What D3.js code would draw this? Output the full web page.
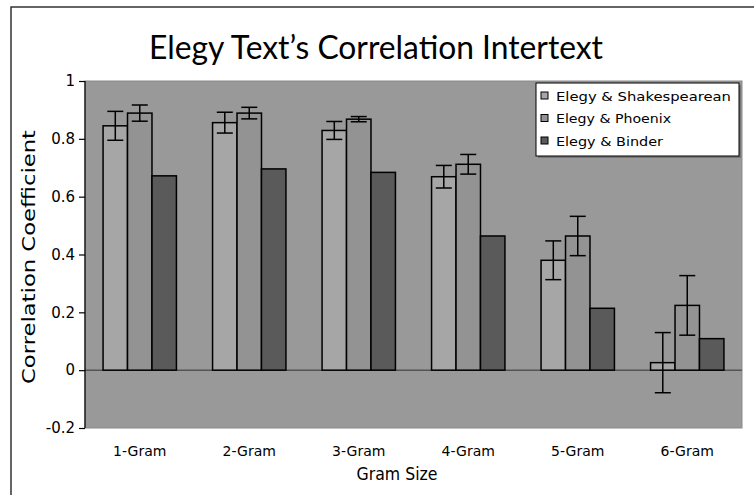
<!DOCTYPE html>
<html>
<head>
<meta charset="utf-8">
<script src="https://cdn.jsdelivr.net/npm/d3@7"></script>
<style>
  body { margin: 0; background: #fff; }
  svg { display: block; font-family: "DejaVu Sans", sans-serif; }
</style>
</head>
<body>
<script>
var categories = ['1-Gram','2-Gram','3-Gram','4-Gram','5-Gram','6-Gram'];
var seriesNames = ['Elegy & Shakespearean','Elegy & Phoenix','Elegy & Binder'];
var seriesColors = ['#a6a6a6','#939393','#5a5a5a'];
var shakespeareanVals = [0.845,0.856,0.829,0.669,0.380,0.026];
var shakespeareanErr = [0.050,0.036,0.031,0.039,0.067,0.104];
var phoenixVals = [0.889,0.889,0.868,0.712,0.464,0.224];
var phoenixErr = [0.028,0.020,0.009,0.034,0.068,0.103];
var binderVals = [0.672,0.696,0.684,0.464,0.214,0.109];
var yTicks = [-0.2,0,0.2,0.4,0.6,0.8,1];

var allVals = [shakespeareanVals, phoenixVals, binderVals];
var allErr = [shakespeareanErr, phoenixErr, null];

var W = 754, H = 495;
var plot = {left:85, right:742, top:81, bottom:428};

var svg = d3.select('body').append('svg').attr('width',W).attr('height',H);

// outer frame (cut off at right and bottom)
svg.append('path').attr('d','M11,'+H+' L11,7 L'+W+',7')
  .style('fill','none').style('stroke','#333').style('stroke-width',1.5);

var y = d3.scaleLinear().domain([-0.2,1]).range([plot.bottom,plot.top]);
var x0 = d3.scaleBand().domain(categories).range([plot.left,plot.right])
  .paddingInner(0.33).paddingOuter(0.165);
var x1 = d3.scaleBand().domain(d3.range(3)).range([0,x0.bandwidth()]);

// plot area
svg.append('rect').attr('x',plot.left).attr('y',plot.top)
  .attr('width',plot.right-plot.left).attr('height',plot.bottom-plot.top)
  .style('fill','#999999').style('stroke','#8a8a8a').style('stroke-width',1);

// zero line
svg.append('line').attr('x1',plot.left).attr('x2',plot.right)
  .attr('y1',y(0)).attr('y2',y(0)).style('stroke','#555').style('stroke-width',1.5);

// bars
var rows = [];
categories.forEach(function(c,i){
  for (var s=0;s<3;s++){
    rows.push({cat:c, s:s, v:allVals[s][i], e: allErr[s] ? allErr[s][i] : null});
  }
});

svg.append('g').selectAll('rect').data(rows).enter().append('rect')
  .attr('x',function(d){ return x0(d.cat)+x1(d.s); })
  .attr('y',function(d){ return y(Math.max(0,d.v)); })
  .attr('width',x1.bandwidth())
  .attr('height',function(d){ return Math.abs(y(d.v)-y(0)); })
  .style('fill',function(d){ return seriesColors[d.s]; })
  .style('stroke','#000').style('stroke-width',1.5);

// error bars
var errG = svg.append('g').style('stroke','#000').style('stroke-width',1.5);
rows.filter(function(d){ return d.e != null; }).forEach(function(d){
  var cx = x0(d.cat)+x1(d.s)+x1.bandwidth()/2;
  var top = y(d.v+d.e), bot = y(d.v-d.e);
  errG.append('line').attr('x1',cx).attr('x2',cx).attr('y1',top).attr('y2',bot);
  errG.append('line').attr('x1',cx-8).attr('x2',cx+8).attr('y1',top).attr('y2',top);
  errG.append('line').attr('x1',cx-8).attr('x2',cx+8).attr('y1',bot).attr('y2',bot);
});

// y axis
var yAxis = d3.axisLeft(y).tickValues(yTicks).tickSize(6).tickPadding(4)
  .tickFormat(function(d){ return String(+d.toFixed(1)); });
var yg = svg.append('g').attr('transform','translate('+plot.left+',0)').call(yAxis);
yg.select('.domain').attr('d','M0,'+plot.top+'V'+plot.bottom).style('stroke','#000').style('stroke-width',1.2);
yg.selectAll('.tick line').style('stroke','#000').style('stroke-width',1.2);
yg.selectAll('text').style('font-size','15px').style('fill','#000').style('font-family','"DejaVu Sans", sans-serif');

// x labels
svg.append('g').selectAll('text').data(categories).enter().append('text')
  .attr('x',function(d){ return x0(d)+x0.bandwidth()/2; })
  .attr('y',456).attr('text-anchor','middle')
  .style('font-size','14px').text(function(d){ return d; });

// titles
svg.append('text').attr('x',376).attr('y',59).attr('text-anchor','middle')
  .attr('textLength',454).attr('lengthAdjust','spacingAndGlyphs')
  .style('font-size','32px').style('font-family','Lato, sans-serif')
  .text("Elegy Text\u2019s  Correlation Intertext");
svg.append('text').attr('x',397).attr('y',480).attr('text-anchor','middle')
  .attr('textLength',81).attr('lengthAdjust','spacingAndGlyphs')
  .style('font-size','17px').text('Gram Size');
svg.append('text').attr('transform','translate(35,257) rotate(-90)').attr('text-anchor','middle')
  .attr('textLength',254).attr('lengthAdjust','spacingAndGlyphs')
  .style('font-size','18px').text('Correlation Coefficient');

// legend
var lg = svg.append('g').attr('transform','translate(536,83)');
lg.append('rect').attr('x',2).attr('y',2).attr('width',203).attr('height',73).style('fill','#777');
lg.append('rect').attr('width',203).attr('height',73).style('fill','#fff').style('stroke','#000').style('stroke-width',1);
var legendLens = [175,115,107];
var li = lg.selectAll('.li').data(seriesNames).enter().append('g')
  .attr('transform',function(d,i){ return 'translate(5,'+(13+i*22.5)+')'; });
li.append('rect').attr('x',0).attr('y',-4).attr('width',7).attr('height',7)
  .style('fill',function(d,i){ return seriesColors[i]; }).style('stroke','#000').style('stroke-width',1);
li.append('text').attr('x',15).attr('y',4.5).style('font-size','13px')
  .attr('textLength',function(d,i){ return legendLens[i]; }).attr('lengthAdjust','spacingAndGlyphs')
  .text(function(d){ return d; });
</script>
</body>
</html>
